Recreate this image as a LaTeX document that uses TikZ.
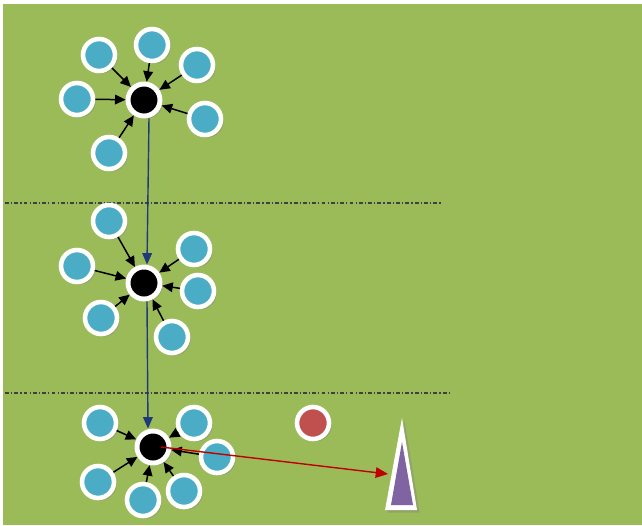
\documentclass[tikz,border=0pt]{standalone}
\usepackage{xcolor}
\usepackage{tikz}
\usetikzlibrary{arrows.meta,shadows}
\definecolor{pitch}{HTML}{9BBB59}
\definecolor{playerfill}{HTML}{4BACC6}
\definecolor{ballfill}{HTML}{C0504D}
\definecolor{conefill}{HTML}{8064A2}
\definecolor{passline}{HTML}{1F3A7A}
\definecolor{shotline}{HTML}{C00000}

\begin{document}
\begin{tikzpicture}[x=0.02cm, y=-0.02cm,
  player/.style={circle, draw=white, line width=2.6pt, fill=playerfill, minimum size=0.64cm, inner sep=0pt, drop shadow={shadow xshift=0.05cm, shadow yshift=-0.05cm, opacity=0.4}},
  hub/.style={player, fill=black, line width=2.8pt},
  ball/.style={player, fill=ballfill},
  zone/.style={line width=0.7pt, black!75, dash pattern=on 2.2pt off 1.2pt on 0.7pt off 1.2pt},
  arr/.style={-{Triangle[length=6pt,width=5.5pt]}, line width=0.85pt, black},
  pass/.style={-{Triangle[length=6.5pt,width=5.5pt]}, line width=0.8pt, passline},
  shot/.style={-{Triangle[length=7pt,width=6pt]}, line width=0.8pt, shotline}
]
  \useasboundingbox (0,0) rectangle (642,525);
  \fill[white] (0,0) rectangle (642,525);
  \fill[pitch] (3,4) rectangle (642,525);

  % zone lines
  \draw[zone] (5,203) -- (441,203);
  \draw[zone] (5,393) -- (450,393);

  % top group
  \node[hub] (h1) at (144,100) {};
  \node[player] (a1) at (99,55) {};
  \node[player] (a2) at (152,45) {};
  \node[player] (a3) at (197,65) {};
  \node[player] (a4) at (77,99) {};
  \node[player] (a5) at (205,119) {};
  \node[player] (a6) at (109,153) {};

  % middle group
  \node[hub] (h2) at (144,283) {};
  \node[player] (b1) at (109,221) {};
  \node[player] (b2) at (194,249) {};
  \node[player] (b3) at (77,266) {};
  \node[player] (b4) at (198,291) {};
  \node[player] (b5) at (101,318) {};
  \node[player] (b6) at (172,337) {};

  % bottom group
  \node[hub] (h3) at (153,447) {};
  \node[player] (c1) at (100,423) {};
  \node[player] (c2) at (194,423) {};
  \node[player] (c3) at (217,457) {};
  \node[player] (c4) at (98,482) {};
  \node[player] (c5) at (143,500) {};
  \node[player] (c6) at (184,491) {};

  \node[ball] (ball) at (313,423) {};

  % cone
  \fill[white, drop shadow={shadow xshift=0.05cm, shadow yshift=-0.05cm, opacity=0.4}] (402,418) -- (417,510) -- (385,510) -- cycle;
  \fill[conefill] (402,442) -- (413,505) -- (391,505) -- cycle;
  \coordinate (goal) at (388,474);

  \foreach \p in {a1,a2,a3,a4,a5,a6} \draw[arr] (\p) -- (h1);
  \foreach \p in {b1,b2,b3,b4,b5,b6} \draw[arr] (\p) -- (h2);
  \foreach \p in {c1,c2,c3,c4,c5,c6} \draw[arr] (\p) -- (h3);

  \draw[pass] ([xshift=0.1cm]h1.south) -- ([xshift=0.06cm]h2.north);
  \draw[pass] ([xshift=0.06cm]h2.south) -- ([xshift=-0.1cm]h3.north);
  \draw[shot] ([xshift=0.16cm]h3.center) -- (goal);
\end{tikzpicture}
\end{document}
